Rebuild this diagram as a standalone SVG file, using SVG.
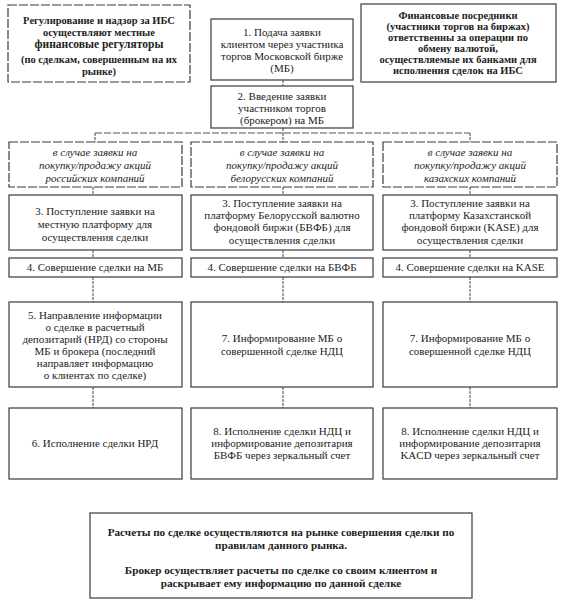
<svg xmlns="http://www.w3.org/2000/svg" width="565" height="616" viewBox="0 0 565 616" font-family="'Liberation Serif', 'Times New Roman', 'DejaVu Serif', serif">
<style>
.b{fill:#fff;stroke:#3a3a3a;stroke-width:1.2}
.d{stroke-dasharray:9,2}
text{font-family:'Liberation Serif','Times New Roman','DejaVu Serif',serif}
.t{font-size:11px;fill:#222;text-anchor:middle}
.bo{font-weight:bold;font-size:10.5px}
.bl{font-weight:bold;font-size:11.2px}
.it{font-style:italic;font-size:11px}
.c{fill:none;stroke:#444;stroke-width:1;stroke-dasharray:3,1}
.h{fill:none;stroke:#555;stroke-width:1;stroke-dasharray:7,2}
</style>
<rect width="565" height="616" fill="#fff"/>
<g id="connectors">
<path class="c" d="M283 80V86M283 128V133M95 133V142M283 133V142M470 133V142"/>
<path class="h" d="M95 133H470"/>
<path class="c" d="M93 187V195M283 187V195M470 187V195"/>
<path class="c" d="M93 250V258M283 250V258M470 250V258"/>
<path class="c" d="M93 277V302M283 277V302M470 277V302"/>
<path class="c" d="M93 387V408M283 387V408M470 387V408"/>
</g>
<g id="regulators">
<rect class="b d" x="8" y="5" width="182" height="77"/>
<text class="t bo"><tspan x="99" y="24">Регулирование и надзор за ИБС</tspan><tspan x="99" y="36">осуществляют местные</tspan><tspan x="99" y="48" font-size="11.5">финансовые регуляторы</tspan><tspan x="99" y="63">(по сделкам, совершенным на их</tspan><tspan x="99" y="75">рынке)</tspan></text>
</g>
<g id="intermediaries">
<rect class="b" x="361" y="4" width="195" height="78"/>
<text class="t bo"><tspan x="458" y="19">Финансовые посредники</tspan><tspan x="458" y="30">(участники торгов на биржах)</tspan><tspan x="458" y="41">ответственны за операции по</tspan><tspan x="458" y="52">обмену валютой,</tspan><tspan x="458" y="63">осуществляемые их банками для</tspan><tspan x="458" y="74">исполнения сделок на ИБС</tspan></text>
</g>
<g id="step1">
<rect class="b" x="211" y="19" width="142" height="61"/>
<text class="t"><tspan x="282" y="36">1. Подача заявки</tspan><tspan x="282" y="48">клиентом через участника</tspan><tspan x="282" y="60">торгов Московской бирже</tspan><tspan x="282" y="72">(МБ)</tspan></text>
</g>
<g id="step2">
<rect class="b" x="211" y="86" width="142" height="42"/>
<text class="t"><tspan x="282" y="100">2. Введение заявки</tspan><tspan x="282" y="112">участником торгов</tspan><tspan x="282" y="124">(брокером) на МБ</tspan></text>
</g>
<g id="case-ru">
<rect class="b d" x="9" y="142" width="173" height="45"/>
<text class="t it"><tspan x="95" y="156">в случае заявки на</tspan><tspan x="95" y="169">покупку/продажу акций</tspan><tspan x="95" y="182">российских компаний</tspan></text>
</g>
<g id="case-by">
<rect class="b d" x="191" y="142" width="182" height="45"/>
<text class="t it"><tspan x="282" y="156">в случае заявки на</tspan><tspan x="282" y="169">покупку/продажу акций</tspan><tspan x="282" y="182">белорусских компаний</tspan></text>
</g>
<g id="case-kz">
<rect class="b d" x="383" y="142" width="174" height="45"/>
<text class="t it"><tspan x="470" y="156">в случае заявки на</tspan><tspan x="470" y="169">покупку/продажу акций</tspan><tspan x="470" y="182">казахских компаний</tspan></text>
</g>
<g id="step3-ru">
<rect class="b" x="9" y="195" width="173" height="55"/>
<text class="t"><tspan x="95" y="215">3. Поступление заявки на</tspan><tspan x="95" y="228">местную платформу для</tspan><tspan x="95" y="241">осуществления сделки</tspan></text>
</g>
<g id="step3-by">
<rect class="b" x="191" y="195" width="182" height="55"/>
<text class="t"><tspan x="282" y="207">3. Поступление заявки на</tspan><tspan x="282" y="219">платформу Белорусской валютно</tspan><tspan x="282" y="231">фондовой биржи (БВФБ) для</tspan><tspan x="282" y="244">осуществления сделки</tspan></text>
</g>
<g id="step3-kz">
<rect class="b" x="383" y="195" width="174" height="55"/>
<text class="t"><tspan x="470" y="207">3. Поступление заявки на</tspan><tspan x="470" y="219">платформу Казахстанской</tspan><tspan x="470" y="231">фондовой биржи (KASE) для</tspan><tspan x="470" y="244">осуществления сделки</tspan></text>
</g>
<g id="step4-ru">
<rect class="b" x="9" y="258" width="173" height="19"/>
<text class="t" x="95" y="271">4. Совершение сделки на МБ</text>
</g>
<g id="step4-by">
<rect class="b" x="191" y="258" width="182" height="19"/>
<text class="t" x="282" y="271">4. Совершение сделки на БВФБ</text>
</g>
<g id="step4-kz">
<rect class="b" x="383" y="258" width="174" height="19"/>
<text class="t" x="470" y="271">4. Совершение сделки на KASE</text>
</g>
<g id="step5-ru">
<rect class="b" x="9" y="302" width="173" height="85"/>
<text class="t"><tspan x="95" y="319">5. Направление информации</tspan><tspan x="95" y="331">о сделке в расчетный</tspan><tspan x="95" y="343">депозитарий (НРД) со стороны</tspan><tspan x="95" y="355">МБ и брокера (последний</tspan><tspan x="95" y="367">направляет информацию</tspan><tspan x="95" y="379">о клиентах по сделке)</tspan></text>
</g>
<g id="step7-by">
<rect class="b" x="191" y="302" width="182" height="85"/>
<text class="t"><tspan x="282" y="342">7. Информирование МБ о</tspan><tspan x="282" y="355">совершенной сделке НДЦ</tspan></text>
</g>
<g id="step7-kz">
<rect class="b" x="383" y="302" width="174" height="85"/>
<text class="t"><tspan x="470" y="342">7. Информирование МБ о</tspan><tspan x="470" y="355">совершенной сделке НДЦ</tspan></text>
</g>
<g id="step6-ru">
<rect class="b" x="9" y="408" width="173" height="71"/>
<text class="t" x="95" y="447">6. Исполнение сделки НРД</text>
</g>
<g id="step8-by">
<rect class="b" x="191" y="408" width="182" height="71"/>
<text class="t"><tspan x="282" y="435">8. Исполнение сделки НДЦ и</tspan><tspan x="282" y="447">информирование депозитария</tspan><tspan x="282" y="459">БВФБ через зеркальный счет</tspan></text>
</g>
<g id="step8-kz">
<rect class="b" x="383" y="408" width="174" height="71"/>
<text class="t"><tspan x="470" y="435">8. Исполнение сделки НДЦ и</tspan><tspan x="470" y="447">информирование депозитария</tspan><tspan x="470" y="459">KACD через зеркальный счет</tspan></text>
</g>
<g id="settlement">
<rect class="b" x="90" y="513" width="382" height="85"/>
<text class="t bl"><tspan x="281" y="536">Расчеты по сделке осуществляются на рынке совершения сделки по</tspan><tspan x="281" y="549">правилам данного рынка.</tspan><tspan x="281" y="574">Брокер осуществляет расчеты по сделке со своим клиентом и</tspan><tspan x="281" y="587">раскрывает ему информацию по данной сделке</tspan></text>
</g>
</svg>
